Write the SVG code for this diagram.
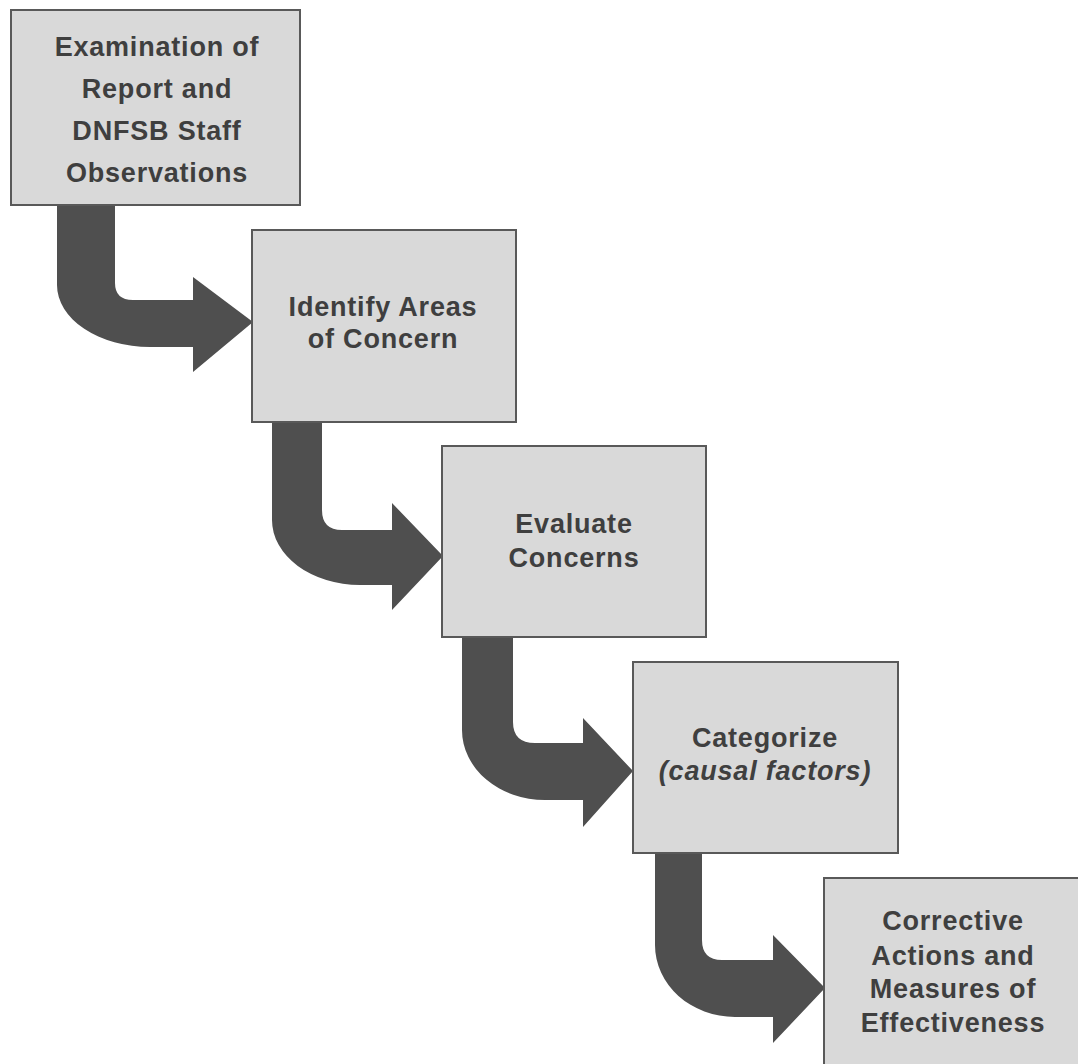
<svg xmlns="http://www.w3.org/2000/svg" width="1078" height="1064" viewBox="0 0 1078 1064">
<style>
.box{fill:#d9d9d9;stroke:#595959;stroke-width:2}
.t{font-family:"Liberation Sans",Arial,sans-serif;font-weight:bold;font-size:27px;fill:#3f3f3f;text-anchor:middle;letter-spacing:0.8px}
.i{font-style:italic}
.arr{fill:#4f4f4f}
</style>
<rect width="1078" height="1064" fill="#ffffff"/>
<g id="connectors">
<path class="arr" d="M57 205 L115 205 L115 283 Q115 300 133 300 L193 300 L193 277 L253 322 L193 372 L193 347 L150 347 A93 62 0 0 1 57 285 Z"/>
<path class="arr" d="M272 422 L322 422 L322 510 Q322 530 342 530 L392 530 L392 503 L443 556 L392 610 L392 585 L360 585 A88 65 0 0 1 272 520 Z"/>
<path class="arr" d="M462 637 L513 637 L513 722 Q513 743 535 743 L583 743 L583 718 L633 771 L583 827 L583 800 L545 800 A83 70 0 0 1 462 730 Z"/>
<path class="arr" d="M655 853 L702 853 L702 940 Q702 960 722 960 L773 960 L773 935 L825 988 L773 1043 L773 1017 L735 1017 A80 72 0 0 1 655 945 Z"/>
</g>
<g id="n1">
<rect class="box" x="11" y="10" width="289" height="195"/>
<text class="t" x="157" y="56">Examination of</text>
<text class="t" x="157" y="98">Report and</text>
<text class="t" x="157" y="140">DNFSB Staff</text>
<text class="t" x="157" y="182">Observations</text>
</g>
<g id="n2">
<rect class="box" x="252" y="230" width="264" height="192"/>
<text class="t" x="383" y="316">Identify Areas</text>
<text class="t" x="383" y="348">of Concern</text>
</g>
<g id="n3">
<rect class="box" x="442" y="446" width="264" height="191"/>
<text class="t" x="574" y="533">Evaluate</text>
<text class="t" x="574" y="567">Concerns</text>
</g>
<g id="n4">
<rect class="box" x="633" y="662" width="265" height="191"/>
<text class="t" x="765" y="747">Categorize</text>
<text class="t i" x="765" y="780">(causal factors)</text>
</g>
<g id="n5">
<rect class="box" x="824" y="878" width="264" height="192"/>
<text class="t" x="953" y="930">Corrective</text>
<text class="t" x="953" y="965">Actions and</text>
<text class="t" x="953" y="998">Measures of</text>
<text class="t" x="953" y="1032">Effectiveness</text>
</g>
</svg>
